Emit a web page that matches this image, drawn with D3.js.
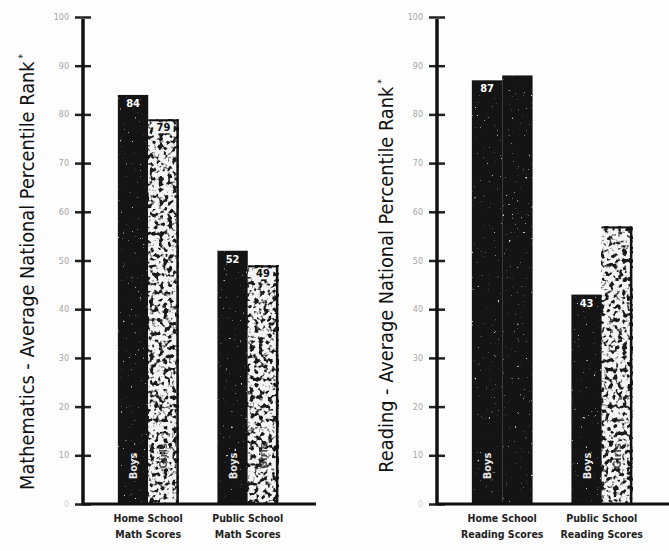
<!DOCTYPE html>
<html>
<head>
<meta charset="utf-8">
<script src="https://cdn.jsdelivr.net/npm/d3@7"></script>
<style>
  body { margin: 0; background: #fdfdfd; }
  svg { display: block; }
  .narrow { font-family: "DejaVu Sans Condensed", "Liberation Sans Narrow", sans-serif; font-stretch: condensed; }
</style>
</head>
<body>
<div id="figure"></div>
<script>
var categories = ["Home School", "Public School"];
var mathBoys = [84, 52];
var mathGirls = [79, 49];
var readingBoys = [87, 43];
var readingGirls = [88, 57];
var yTicks = [0, 10, 20, 30, 40, 50, 60, 70, 80, 90, 100];
var mathLabels = [["Home School", "Math Scores"], ["Public School", "Math Scores"]];
var readingLabels = [["Home School", "Reading Scores"], ["Public School", "Reading Scores"]];

var svg = d3.select("#figure")
    .append("svg")
    .attr("width", 669)
    .attr("height", 551);

svg.append("rect").attr("width", 669).attr("height", 551).attr("fill", "#fdfdfd");

// scan speckle textures
var defs = svg.append("defs");
function speck(id, rgb, a, b, freq, seed) {
    var f = defs.append("filter")
        .attr("id", id)
        .attr("x", 0).attr("y", 0).attr("width", 1).attr("height", 1)
        .attr("color-interpolation-filters", "sRGB");
    f.append("feTurbulence")
        .attr("type", "fractalNoise")
        .attr("baseFrequency", freq)
        .attr("numOctaves", 2)
        .attr("seed", seed);
    f.append("feColorMatrix")
        .attr("type", "matrix")
        .attr("values", `0 0 0 0 ${rgb}  0 0 0 0 ${rgb}  0 0 0 0 ${rgb}  ${a} 0 0 0 ${b}`);
}
speck("darkSpeck", 0.1, -7, 3.55, 0.22, 4);
speck("lightSpeck", 0.85, 9, -6.6, 0.35, 9);

var y = d3.scaleLinear()
    .domain([0, 100])
    .range([504, 17]);

/**
 * draw one panel
 * @param {object} o
 */
function drawPanel(o) {
    var g = svg.append("g");
    var x = d3.scaleBand()
        .domain(categories)
        .range([o.axisX, o.axisX + 230])
        .paddingInner(0.39)
        .paddingOuter(0.35);
    var half = x.bandwidth() / 2;

    // y axis
    var ax = g.append("g")
        .attr("transform", `translate(${o.axisX},0)`)
        .call(d3.axisLeft(y).tickValues(yTicks).tickSize(0).tickPadding(14));
    ax.select(".domain").remove();
    ax.selectAll(".tick text")
        .attr("fill", "#a5a5a5")
        .attr("font-size", 8)
        .attr("font-family", "DejaVu Sans");
    ax.selectAll(".tick").filter(d => d === 0).select("text").attr("opacity", 0.5);
    ax.selectAll(".tick").append("line")
        .attr("x1", -8).attr("x2", 8)
        .attr("stroke", "#222").attr("stroke-width", 2.5);
    g.append("line")
        .attr("x1", o.axisX).attr("x2", o.axisX)
        .attr("y1", y(100) + 2).attr("y2", y(0) + 1)
        .attr("stroke", "#111").attr("stroke-width", 3.5);

    var bars = [];
    categories.forEach((c, i) => {
        bars.push({ cat: c, sex: "Boys", v: o.boys[i], x: x(c), dark: true, showValue: true, showSex: true });
        bars.push({ cat: c, sex: "Girls", v: o.girls[i], x: x(c) + half, dark: o.darkGirls[i], showValue: o.girlsValue, showSex: !o.darkGirls[i] });
    });

    bars.forEach(b => {
        var h = y(0) - y(b.v);
        g.append("rect")
            .attr("x", b.x).attr("y", y(b.v))
            .attr("width", half).attr("height", h)
            .attr("fill", b.dark ? "#141414" : "#f4f4f4");
        g.append("rect")
            .attr("x", b.x).attr("y", y(b.v))
            .attr("width", half).attr("height", h)
            .attr("fill", "#000")
            .attr("filter", b.dark ? "url(#lightSpeck)" : "url(#darkSpeck)");
        if (!b.dark) {
            g.append("line")
                .attr("x1", b.x + half - 1).attr("x2", b.x + half - 1)
                .attr("y1", y(b.v)).attr("y2", y(0))
                .attr("stroke", "#111").attr("stroke-width", 2.5);
            g.append("line")
                .attr("x1", b.x).attr("x2", b.x + half)
                .attr("y1", y(b.v) + 1).attr("y2", y(b.v) + 1)
                .attr("stroke", "#111").attr("stroke-width", 2);
        }
        if (b.showValue) {
            if (!b.dark) {
                g.append("rect")
                    .attr("x", b.x + 5).attr("y", y(b.v) + 3)
                    .attr("width", half - 10).attr("height", 11)
                    .attr("fill", "#f4f4f4");
            }
            g.append("text")
                .attr("class", "narrow")
                .attr("x", b.x + half / 2)
                .attr("y", y(b.v) + 12)
                .attr("text-anchor", "middle")
                .attr("font-size", 11)
                .attr("font-weight", "bold")
                .attr("fill", b.dark ? "#fff" : "#111")
                .text(b.v);
        }
        if (b.showSex) {
            g.append("text")
                .attr("class", "narrow")
                .attr("transform", `translate(${b.x + half / 2 + 4},${y(0) - (b.sex === "Boys" ? 38 : 48)}) rotate(-90)`)
                .attr("text-anchor", "middle")
                .attr("font-size", 11)
                .attr("font-weight", "bold")
                .attr("fill", b.dark ? "#e8e8e8" : "#333")
                .attr("opacity", b.sex === "Girls" ? 0.85 : 1)
                .text(b.sex);
        }
    });

    // baseline
    g.append("line")
        .attr("x1", o.axisX - 1).attr("x2", o.axisX + 233)
        .attr("y1", y(0)).attr("y2", y(0))
        .attr("stroke", "#111").attr("stroke-width", 3);

    // category labels
    categories.forEach((c, i) => {
        var t = g.append("text")
            .attr("class", "narrow")
            .attr("x", x(c) + x.bandwidth() / 2)
            .attr("y", y(0) + 18)
            .attr("text-anchor", "middle")
            .attr("font-size", 10.5)
            .attr("font-weight", "bold")
            .attr("fill", "#222");
        o.xLabels[i].forEach((s, k) => {
            t.append("tspan")
                .attr("x", x(c) + x.bandwidth() / 2)
                .attr("dy", k === 0 ? 0 : 16)
                .text(s);
        });
    });

    // axis title
    var title = g.append("text")
        .attr("class", "narrow")
        .attr("transform", `translate(${o.titleX},${o.titleY}) rotate(-90)`)
        .attr("text-anchor", "middle")
        .attr("font-size", 19.8)
        .attr("fill", "#111")
        .text(o.title);
    title.append("tspan")
        .attr("dy", -8)
        .attr("font-size", 10)
        .text(" *");
}

drawPanel({
    axisX: 83,
    boys: mathBoys,
    girls: mathGirls,
    darkGirls: [false, false],
    girlsValue: true,
    xLabels: mathLabels,
    title: "Mathematics  -  Average National Percentile Rank",
    titleX: 34,
    titleY: 272
});

drawPanel({
    axisX: 437,
    boys: readingBoys,
    girls: readingGirls,
    darkGirls: [true, false],
    girlsValue: false,
    xLabels: readingLabels,
    title: "Reading  -  Average National Percentile Rank",
    titleX: 393,
    titleY: 276
});
</script>
</body>
</html>
